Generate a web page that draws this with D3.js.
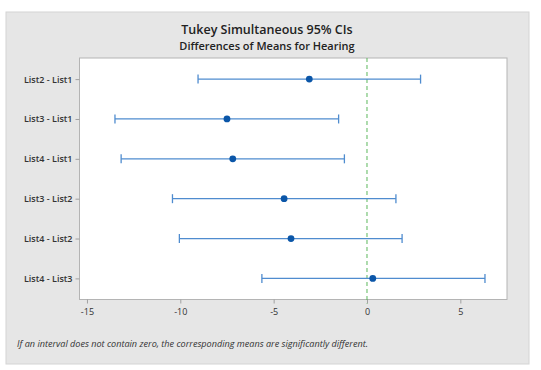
<!DOCTYPE html>
<html>
<head>
<meta charset="utf-8">
<script src="https://cdn.jsdelivr.net/npm/d3@7"></script>
<style>
  body { margin: 0; background: #ffffff; }
  svg { display: block; }
</style>
</head>
<body>
<svg id="chart" width="541" height="370"></svg>
<script>
// Tukey simultaneous 95% CIs, differences of means for Hearing

const comparisons = ["List2 - List1", "List3 - List1", "List4 - List1",
                     "List3 - List2", "List4 - List2", "List4 - List3"];
const means = [-3.09, -7.50, -7.19, -4.44, -4.07, 0.31];
const lower = [-9.05, -13.50, -13.17, -10.42, -10.05, -5.63];
const upper = [2.87, -1.52, -1.21, 1.55, 1.88, 6.32];
const xTicks = [-15, -10, -5, 0, 5];

const svg = d3.select("#chart");

const panel = {x: 6, y: 12, w: 523, h: 352};
const plot = {left: 79.5, top: 58, right: 507, bottom: 299.5};

// grey background panel
svg.append("rect")
        .attr("x", panel.x)
        .attr("y", panel.y)
        .attr("width", panel.w)
        .attr("height", panel.h)
        .attr("fill", "#e6e6e6")
        .attr("stroke", "#d4d4d4");

// white data region
svg.append("rect")
        .attr("x", plot.left)
        .attr("y", plot.top)
        .attr("width", plot.right - plot.left)
        .attr("height", plot.bottom - plot.top)
        .attr("fill", "#ffffff")
        .attr("stroke", "#b4b4b4");

const x = d3.scaleLinear()
        .domain([-15.4, 7.5])
        .range([plot.left, plot.right]);

const y = d3.scalePoint()
        .domain(comparisons)
        .range([plot.top, plot.bottom])
        .padding(0.53);

// x axis
const xAxis = svg.append("g")
        .attr("transform", "translate(0," + plot.bottom + ")")
        .call(d3.axisBottom(x).tickValues(xTicks).tickSize(4).tickPadding(5)
              .tickFormat(d => d < 0 ? "-" + Math.abs(d) : d));
xAxis.select(".domain").remove();
xAxis.selectAll("line").attr("stroke", "#a0a0a0");
xAxis.selectAll("text")
        .attr("font-family", "Open Sans, sans-serif")
        .attr("font-size", "9px")
        .attr("fill", "#333");

// y axis
const yAxis = svg.append("g")
        .attr("transform", "translate(" + plot.left + ",0)")
        .call(d3.axisLeft(y).tickSize(4).tickPadding(3));
yAxis.select(".domain").remove();
yAxis.selectAll("line").attr("stroke", "#a0a0a0");
yAxis.selectAll("text")
        .attr("font-family", "Open Sans, sans-serif")
        .attr("font-size", "9px")
        .attr("font-weight", "600")
        .attr("fill", "#333");

// reference line at zero
svg.append("line")
        .attr("x1", x(0))
        .attr("x2", x(0))
        .attr("y1", plot.top)
        .attr("y2", plot.bottom + 4)
        .attr("stroke", "#5cb85c")
        .attr("stroke-width", 1)
        .attr("stroke-dasharray", "4,3");

// intervals
const rows = comparisons.map((c, i) => ({name: c, mean: means[i], lo: lower[i], hi: upper[i]}));

const g = svg.append("g");
g.selectAll(".ci")
        .data(rows)
        .join("line")
        .attr("class", "ci")
        .attr("x1", d => x(d.lo))
        .attr("x2", d => x(d.hi))
        .attr("y1", d => y(d.name))
        .attr("y2", d => y(d.name))
        .attr("stroke", "#4f8ccf")
        .attr("stroke-width", 1.3);

// end caps
["lo", "hi"].forEach(k => {
        g.selectAll(".cap_" + k)
                .data(rows)
                .join("line")
                .attr("class", "cap_" + k)
                .attr("x1", d => x(d[k]))
                .attr("x2", d => x(d[k]))
                .attr("y1", d => y(d.name) - 4.5)
                .attr("y2", d => y(d.name) + 4.5)
                .attr("stroke", "#4f8ccf")
                .attr("stroke-width", 1.3);
});

g.selectAll(".mean")
        .data(rows)
        .join("circle")
        .attr("class", "mean")
        .attr("cx", d => x(d.mean))
        .attr("cy", d => y(d.name))
        .attr("r", 3.4)
        .attr("fill", "#0b56a8");

// titles
svg.append("text")
        .attr("x", 267)
        .attr("y", 33.5)
        .attr("text-anchor", "middle")
        .attr("font-family", "Open Sans, sans-serif")
        .attr("font-size", "12.5px")
        .attr("font-weight", "600")
        .attr("fill", "#222")
        .text("Tukey Simultaneous 95% CIs");

svg.append("text")
        .attr("x", 267)
        .attr("y", 49.5)
        .attr("text-anchor", "middle")
        .attr("font-family", "Open Sans, sans-serif")
        .attr("font-size", "11px")
        .attr("font-weight", "600")
        .attr("fill", "#222")
        .text("Differences of Means for Hearing");

// footnote
svg.append("text")
        .attr("x", 17)
        .attr("y", 347)
        .attr("font-family", "Open Sans, sans-serif")
        .attr("font-size", "9.1px")
        .attr("font-style", "italic")
        .attr("fill", "#333")
        .text("If an interval does not contain zero, the corresponding means are significantly different.");
</script>
</body>
</html>
